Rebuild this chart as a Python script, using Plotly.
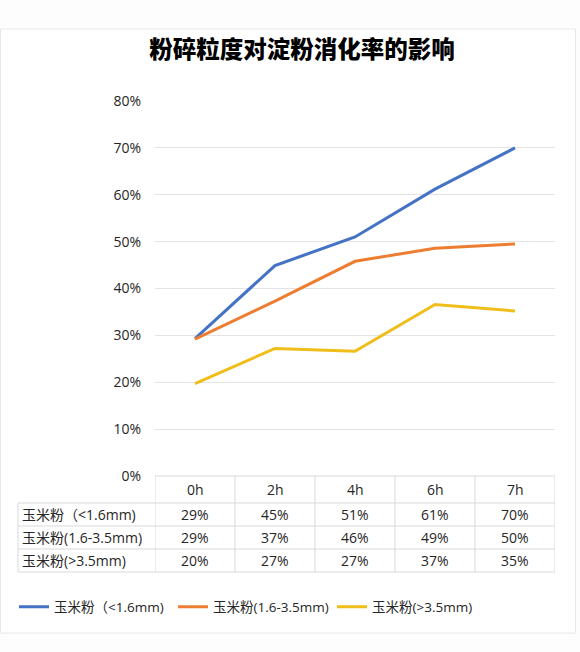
import plotly.graph_objects as go

# ---------------- data ----------------
title_text = "粉碎粒度对淀粉消化率的影响"
categories = ["0h", "2h", "4h", "6h", "7h"]
series_names = ["玉米粉（<1.6mm)", "玉米粉(1.6-3.5mm)", "玉米粉(>3.5mm)"]
fine = [29.3, 44.9, 51.0, 61.2, 70.0]
medium = [29.2, 37.3, 45.8, 48.6, 49.5]
coarse = [19.7, 27.2, 26.6, 36.6, 35.2]
table_fine = ["29%", "45%", "51%", "61%", "70%"]
table_medium = ["29%", "37%", "46%", "49%", "50%"]
table_coarse = ["20%", "27%", "27%", "37%", "35%"]
y_ticks = [0, 10, 20, 30, 40, 50, 60, 70, 80]
y_tick_labels = ["0%", "10%", "20%", "30%", "40%", "50%", "60%", "70%", "80%"]

# ---------------- style ----------------
colors = ["#4472C4", "#ED7D31", "#F0BE1A"]
FONT = "Open Sans, Noto Sans CJK SC, sans-serif"
CJK = "Noto Sans CJK SC, sans-serif"
W, H = 580, 652
L, R, T, B = 155, 25, 101, 176
PW, PH = W - L - R, H - T - B
Y0 = T + PH  # pixel row of the x axis


def px(p):
    return (p - L) / PW


def py(p):
    return (Y0 - p) / PH


fig = go.Figure()
for name, vals, col in zip(series_names, [fine, medium, coarse], colors):
    fig.add_trace(go.Scatter(x=categories, y=vals, name=name, mode="lines",
                             line=dict(color=col, width=3)))

shapes = []
# outer frame
shapes.append(dict(type="rect", xref="paper", yref="paper",
                   x0=px(0.5), x1=px(575.5), y0=py(29), y1=py(633),
                   line=dict(color="#e8e8e8", width=1), fillcolor="white", layer="below"))
grid_col = "#d9d9d9"
# table horizontal lines
shapes.append(dict(type="line", xref="x", yref="paper", x0=-0.5, x1=len(categories) - 0.5,
                   y0=py(476), y1=py(476), line=dict(color=grid_col, width=1)))
for yy in [503, 526, 549, 572]:
    shapes.append(dict(type="line", xref="paper", yref="paper", x0=px(18), x1=1,
                       y0=py(yy), y1=py(yy), line=dict(color=grid_col, width=1)))
# table vertical lines
for i in range(len(categories) + 1):
    shapes.append(dict(type="line", xref="x", yref="paper", x0=i - 0.5, x1=i - 0.5,
                       y0=py(476), y1=py(572), line=dict(color=grid_col, width=1)))
shapes.append(dict(type="line", xref="paper", yref="paper", x0=px(18), x1=px(18),
                   y0=py(503), y1=py(572), line=dict(color=grid_col, width=1)))

annotations = []
tfont = dict(family=FONT, size=14, color="#262626")
for c in categories:
    annotations.append(dict(x=c, xref="x", y=py(489.5), yref="paper", text=c,
                            showarrow=False, font=tfont, xanchor="center", yanchor="middle"))
for row_y, name, vals in zip([514.5, 537.5, 560.5], series_names,
                             [table_fine, table_medium, table_coarse]):
    annotations.append(dict(x=px(20), xref="paper", y=py(row_y), yref="paper", text=name,
                            showarrow=False, font=tfont, xanchor="left", yanchor="middle"))
    for c, v in zip(categories, vals):
        annotations.append(dict(x=c, xref="x", y=py(row_y), yref="paper", text=v,
                                showarrow=False, font=tfont, xanchor="center", yanchor="middle"))

fig.update_layout(
    width=W, height=H,
    margin=dict(l=L, r=R, t=T, b=B),
    paper_bgcolor="#fdfdfd", plot_bgcolor="rgba(0,0,0,0)",
    title=dict(text=title_text, x=302 / W, y=1 - 50 / H,
               xanchor="center", yanchor="middle",
               font=dict(family=CJK, size=23.5, color="#000000", weight=900)),
    xaxis=dict(type="category", range=[-0.5, len(categories) - 0.5], showticklabels=False,
               showgrid=False, zeroline=False, showline=False, fixedrange=True),
    yaxis=dict(range=[0, 80], tickvals=y_ticks, ticktext=y_tick_labels, showgrid=True,
               gridcolor="#e3e3e3", gridwidth=1, zeroline=False, showline=False,
               ticks="outside", ticklen=10, tickcolor="rgba(0,0,0,0)",
               tickfont=dict(family=FONT, size=14, color="#262626")),
    legend=dict(orientation="h", x=px(14), y=py(607), xanchor="left", yanchor="middle",
                font=dict(family=FONT, size=13.5, color="#262626"),
                bgcolor="rgba(0,0,0,0)", itemwidth=30, tracegroupgap=0,
                entrywidth=114, entrywidthmode="pixels"),
    shapes=shapes,
    annotations=annotations,
    showlegend=True,
)

fig.write_html("out.html")
